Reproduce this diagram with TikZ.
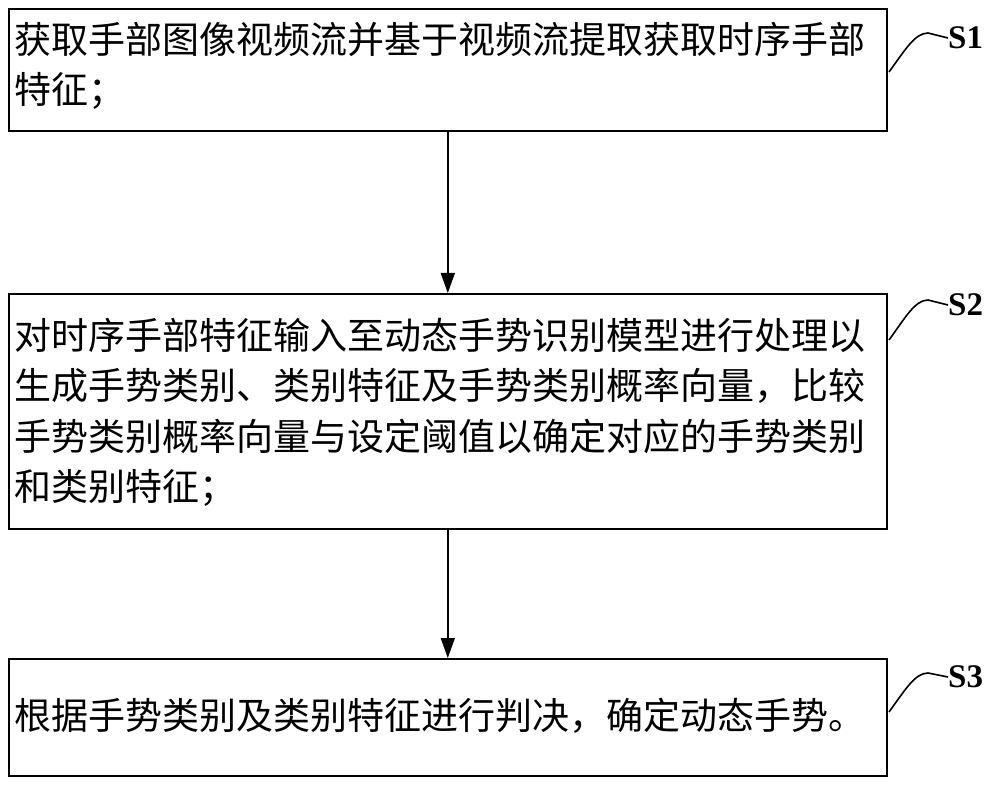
\documentclass[tikz,border=0pt]{standalone}
\usepackage{fontspec}
\setmainfont{Liberation Serif}
\newfontfamily\cjk{Noto Sans CJK SC}
\usetikzlibrary{arrows.meta}
\begin{document}
\begin{tikzpicture}[x=1pt,y=-1pt,
  box/.style={draw,line width=1.6pt},
  txt/.style={anchor=north west,align=left,font=\cjk\fontsize{37}{50.5}\selectfont,inner sep=0pt},
  lab/.style={font=\bfseries\fontsize{33}{33}\selectfont,anchor=west,inner sep=0pt},
  arr/.style={line width=1.6pt,-{Triangle[length=20pt,width=14pt]}},
  brk/.style={line width=1.6pt}]
\useasboundingbox (0,0) rectangle (1000,791);
\node[box,minimum width=878pt,minimum height=122pt,anchor=north west,inner sep=0pt] (b1) at (8,8) {};
\node[box,minimum width=878pt,minimum height=235pt,anchor=north west,inner sep=0pt] (b2) at (8,293) {};
\node[box,minimum width=878pt,minimum height=117pt,anchor=north west,inner sep=0pt] (b3) at (8,658) {};
\node[txt] (t1) at (14,22) {获取手部图像视频流并基于视频流提取获取时序手部\\特征；};
\node[txt] (t2) at (14,318) {对时序手部特征输入至动态手势识别模型进行处理以\\生成手势类别、类别特征及手势类别概率向量，比较\\手势类别概率向量与设定阈值以确定对应的手势类别\\和类别特征；};
\node[txt] (t3) at (14,698) {根据手势类别及类别特征进行判决，确定动态手势。};
\draw[arr] (b1.south) -- (b2.north);
\draw[arr] (b2.south) -- (b3.north);
\node[lab] (s1) at (948,38) {S1};
\node[lab] (s2) at (948,305) {S2};
\node[lab] (s3) at (948,677) {S3};
\coordinate (c1) at (889,72);
\coordinate (c2) at (889,340);
\coordinate (c3) at (889,712);
\draw[brk] (c1) .. controls (905,50) and (915,33) .. (928,33) -- (s1.west);
\draw[brk] (c2) .. controls (905,318) and (915,300) .. (928,300) -- (s2.west);
\draw[brk] (c3) .. controls (905,690) and (915,673) .. (928,673) -- (s3.west);
\end{tikzpicture}
\end{document}
